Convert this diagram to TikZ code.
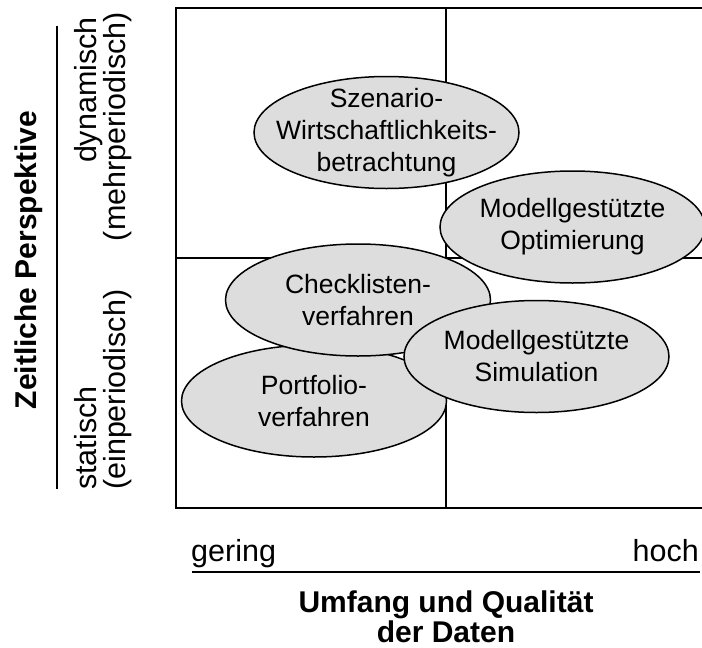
\documentclass[tikz,border=0pt]{standalone}
\usepackage{fontspec}
\setmainfont{Liberation Sans}
\usetikzlibrary{shapes.geometric}
\definecolor{bubblefill}{RGB}{221,221,221}
\tikzset{
  frame/.style={line width=1.8pt, black},
  bubble/.style={ellipse, draw=black, line width=1.5pt, fill=bubblefill,
    minimum width=265pt, minimum height=112pt, inner sep=0pt},
  bubbletext/.style={align=center, inner sep=0pt,
    font=\fontsize{26.5}{32}\selectfont},
  axistext/.style={font=\fontsize{30.5}{30}\selectfont, inner sep=0pt},
  axistitle/.style={font=\fontsize{30}{30}\selectfont\bfseries, inner sep=0pt},
}
\begin{document}
\begin{tikzpicture}[x=1pt, y=-1pt]
\useasboundingbox (0,0) rectangle (702,648);
\begin{scope}
\clip (0,0) rectangle (702,648);
% quadrant frame
\coordinate (tl) at (175.7,8.3);
\coordinate (br) at (720,507.7);
\coordinate (midtop) at (446,8.3);
\coordinate (midbot) at (446,507.7);
\coordinate (midleft) at (175.7,258);
\coordinate (midright) at (720,258);
\draw[frame] (tl) rectangle (br);
\draw[frame] (midtop) -- (midbot);
\draw[frame] (midleft) -- (midright);

% methods
\node[bubble] (szen) at (386.5,132.5) {};
\node[bubbletext] (szentext) at (szen) {Szenario-\\Wirtschaftlichkeits-\\betrachtung};
\node[bubble] (opt) at (572.5,227) {};
\node[bubbletext] (opttext) at (opt) {Modellgestützte\\Optimierung};
\node[bubble] (port) at (314,401) {};
\node[bubbletext] (porttext) at (port) {Portfolio-\\verfahren};
\node[bubble] (check) at (358,300) {};
\node[bubbletext] (checktext) at (check) {Checklisten-\\verfahren};
\node[bubble] (sim) at (536.5,356.5) {};
\node[bubbletext] (simtext) at (sim) {Modellgestützte\\Simulation};
\end{scope}

% horizontal axis
\node[axistext, anchor=base west] (gering) at (191,561) {gering};
\node[axistext, anchor=base east] (hoch) at (699,561) {hoch};
\coordinate (xaxL) at (192,572);
\coordinate (xaxR) at (700,572);
\draw[frame] (xaxL) -- (xaxR);
\node[axistitle, anchor=base] (xtitle1) at (446,612) {Umfang und Qualität};
\node[axistitle, anchor=base] (xtitle2) at (446,642) {der Daten};

% vertical axis
\coordinate (yaxT) at (57,26);
\coordinate (yaxB) at (57,489);
\draw[frame] (yaxT) -- (yaxB);
\node[axistext, rotate=90, anchor=base west] (stat1) at (96,490) {statisch};
\node[axistext, rotate=90, anchor=base west] (stat2) at (125,490) {(einperiodisch)};
\node[axistext, rotate=90, anchor=base east] (dyn1) at (96,17) {dynamisch};
\node[axistext, rotate=90, anchor=base east] (dyn2) at (125,12) {(mehrperiodisch)};
\node[axistitle, rotate=90, anchor=base] (ytitle) at (36,260) {Zeitliche Perspektive};
\end{tikzpicture}
\end{document}
